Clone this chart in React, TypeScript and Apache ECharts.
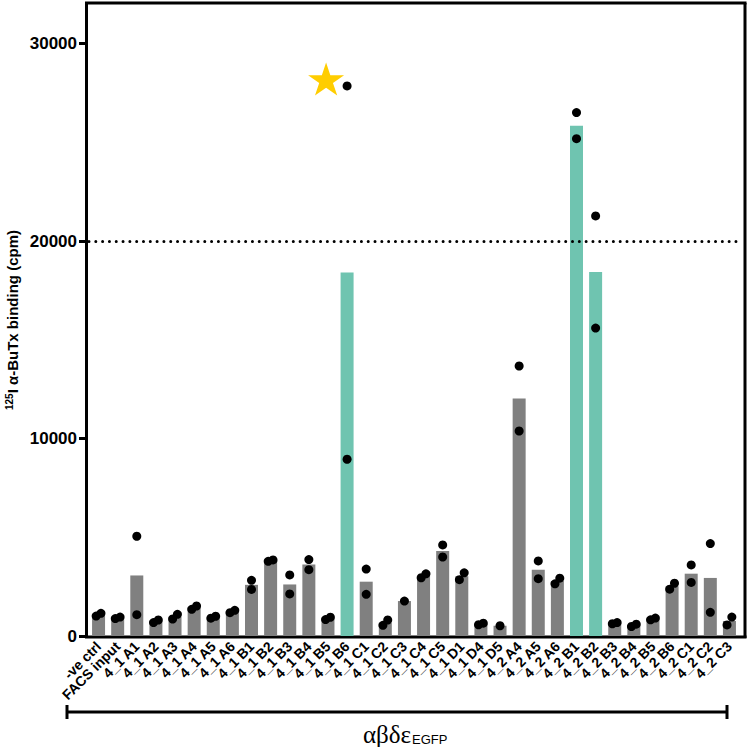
import React, { useEffect, useRef } from "react";
import * as echarts from "echarts";

const categories = [
  "-ve ctrl", "FACS input",
  "4_1 A1", "4_1 A2", "4_1 A3", "4_1 A4", "4_1 A5", "4_1 A6",
  "4_1 B1", "4_1 B2", "4_1 B3", "4_1 B4", "4_1 B5", "4_1 B6",
  "4_1 C1", "4_1 C2", "4_1 C3", "4_1 C4", "4_1 C5",
  "4_1 D1", "4_1 D4", "4_1 D5",
  "4_2 A4", "4_2 A5", "4_2 A6",
  "4_2 B1", "4_2 B2", "4_2 B3", "4_2 B4", "4_2 B5", "4_2 B6",
  "4_2 C1", "4_2 C2", "4_2 C3",
];

// replicate 1 and replicate 2 (cpm)
const rep1: (number | null)[] = [
  1010, 880,
  5050, 680, 860, 1350, 900, 1180,
  2820, 3780, 3090, 3870, 830, 27850,
  3390, 540, 1770, 2950, 4610,
  2850, 570, 520,
  13670, 3800, 2640,
  26500, 21270, 620, 480, 820, 2370,
  3600, 4680, 560,
];
const rep2: (number | null)[] = [
  1150, 960,
  1080, 810, 1100, 1520, 1000, 1300,
  2360, 3850, 2130, 3360, 950, 8950,
  2110, 810, null, 3150, 4000,
  3200, 650, null,
  10380, 2900, 2930,
  25180, 15590, 680, 600, 910, 2670,
  2710, 1200, 960,
];

const highlighted = ["4_1 B6", "4_2 B1", "4_2 B2"];
const yTickValues = [0, 10000, 20000, 30000];
const yMax = 32000;
const thresholdValue = 20000;
const starMarks = [{ category: "4_1 B6", value: 28200 }];
const yTitleParts = { sup: "125", main: "I α-BuTx binding (cpm)" };
const groupLabel = { main: "αβδε", sub: "EGFP" };

const GRAY = "#808080";
const TEAL = "#6FC4B0";
const STAR = "#FFCD00";
const STAR_PATH =
  "path://M50,0 L61.2,34.5 L97.6,34.5 L68.2,55.9 L79.4,90.5 L50,69.1 L20.6,90.5 L31.8,55.9 L2.4,34.5 L38.8,34.5 Z";

export default function App() {
  const ref = useRef<HTMLDivElement>(null);

  useEffect(() => {
    document.body.style.margin = "0";
    if (!ref.current) return;
    const chart = echarts.init(ref.current, null, { renderer: "svg" });

    const means = categories.map((_, i) => {
      const vals = [rep1[i], rep2[i]].filter((v) => v != null) as number[];
      return vals.reduce((a, b) => a + b, 0) / vals.length;
    });

    const pxPerUnit = 632 / yMax;
    const dots: any[] = [];
    categories.forEach((_, i) => {
      const a = rep1[i];
      const b = rep2[i];
      if (a != null && b != null) {
        const close = Math.abs(a - b) * pxPerUnit < 8.5;
        const lo = Math.min(a, b);
        const hi = Math.max(a, b);
        dots.push({ value: [i, lo], symbolOffset: [close ? -2.4 : 0, 0] });
        dots.push({ value: [i, hi], symbolOffset: [close ? 2.4 : 0, 0] });
      } else {
        const v = a != null ? a : b;
        if (v != null) dots.push({ value: [i, v] });
      }
    });

    const font = "'Liberation Sans', Arial, Helvetica, sans-serif";
    const lineStyle = () => ({ stroke: "#000", lineWidth: 3 });

    chart.setOption({
      animation: false,
      grid: {
        left: 89,
        right: 9,
        top: 4,
        bottom: 111,
        containLabel: false,
        outerBoundsMode: "none",
      },
      xAxis: {
        type: "category",
        data: categories,
        axisLine: { show: false },
        axisTick: { show: false },
        axisLabel: {
          interval: 0,
          rotate: 45,
          margin: 8,
          color: "#000",
          fontFamily: font,
          fontWeight: "bold",
          fontSize: 14,
        },
      },
      yAxis: {
        type: "value",
        min: 0,
        max: yMax,
        interval: 10000,
        offset: 3,
        splitLine: { show: false },
        axisLine: { show: true, lineStyle: { color: "#000", width: 3 } },
        axisTick: {
          show: true,
          length: 7,
          customValues: yTickValues,
          lineStyle: { color: "#000", width: 3 },
        },
        axisLabel: {
          customValues: yTickValues,
          formatter: (v: number) => String(v),
          margin: 9,
          color: "#000",
          fontFamily: font,
          fontWeight: "bold",
          fontSize: 17,
        },
        name: `{sup|${yTitleParts.sup}}{main|${yTitleParts.main}}`,
        nameLocation: "middle",
        nameGap: 65,
        nameMoveOverlap: false,
        nameTextStyle: {
          fontFamily: font,
          fontWeight: "bold",
          fontSize: 15,
          color: "#000",
          rich: {
            sup: {
              fontFamily: font,
              fontWeight: "bold",
              fontSize: 10,
              color: "#000",
              padding: [0, 0, 7, 0],
            },
            main: {
              fontFamily: font,
              fontWeight: "bold",
              fontSize: 15,
              color: "#000",
            },
          },
        },
      },
      series: [
        {
          type: "bar",
          barWidth: 13,
          data: means.map((m, i) => ({
            value: m,
            itemStyle: { color: highlighted.includes(categories[i]) ? TEAL : GRAY },
          })),
          markLine: {
            silent: true,
            symbol: "none",
            label: { show: false },
            lineStyle: { color: "#000", type: [0.01, 6.8], width: 3, cap: "round" },
            data: [{ yAxis: thresholdValue }],
          },
          z: 2,
        },
        {
          type: "scatter",
          symbol: "circle",
          symbolSize: 9,
          itemStyle: { color: "#000", opacity: 1 },
          data: dots,
          z: 3,
        },
        {
          type: "scatter",
          symbol: STAR_PATH,
          symbolSize: [36, 33],
          symbolOffset: [-21, 0],
          itemStyle: { color: STAR, opacity: 1 },
          data: starMarks.map((s) => [categories.indexOf(s.category), s.value]),
          z: 3,
        },
      ],
      graphic: [
        { type: "line", shape: { x1: 85, y1: 3, x2: 746.5, y2: 3 }, style: lineStyle() },
        { type: "line", shape: { x1: 745, y1: 3, x2: 745, y2: 638 }, style: lineStyle() },
        { type: "line", shape: { x1: 85, y1: 637, x2: 746.5, y2: 637 }, style: lineStyle() },
        { type: "line", shape: { x1: 67, y1: 712, x2: 727, y2: 712 }, style: lineStyle() },
        { type: "line", shape: { x1: 67, y1: 705, x2: 67, y2: 719 }, style: lineStyle() },
        { type: "line", shape: { x1: 727, y1: 705, x2: 727, y2: 719 }, style: lineStyle() },
        {
          type: "text",
          x: 411,
          y: 734,
          style: {
            text: groupLabel.main,
            fontFamily: "'Liberation Serif', 'Times New Roman', serif",
            fontSize: 25,
            fill: "#000",
            align: "right",
            verticalAlign: "middle",
          },
        },
        {
          type: "text",
          x: 412,
          y: 739,
          style: {
            text: groupLabel.sub,
            fontFamily: font,
            fontSize: 13,
            fill: "#000",
            align: "left",
            verticalAlign: "middle",
          },
        },
      ],
    });

    return () => chart.dispose();
  }, []);

  return <div ref={ref} style={{ width: 748, height: 747 }} />;
}
